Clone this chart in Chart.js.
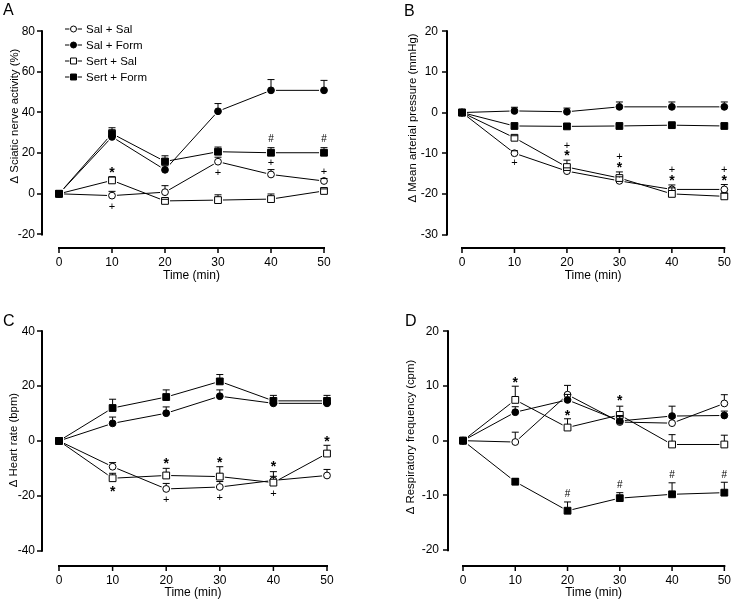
<!DOCTYPE html>
<html><head><meta charset="utf-8">
<script src="https://cdn.jsdelivr.net/npm/chart.js@4/dist/chart.umd.min.js"></script>
<style>
body{margin:0;background:#fff;}
#wrap{position:relative;width:738px;height:601px;background:#fff;overflow:hidden;}
canvas{position:absolute;}
</style></head><body>
<div id="wrap">
<canvas id="cA" width="370" height="300" style="left:0;top:0"></canvas>
<canvas id="cB" width="368" height="300" style="left:370px;top:0"></canvas>
<canvas id="cC" width="370" height="301" style="left:0;top:300px"></canvas>
<canvas id="cD" width="368" height="301" style="left:370px;top:300px"></canvas>
</div>
<script>
// ---------- shared ----------
const times = [0, 10, 20, 30, 40, 50];
const xTickValues = [0, 10, 20, 30, 40, 50];
const seriesNames = ['Sal + Sal', 'Sal + Form', 'Sert + Sal', 'Sert + Form'];

// ---------- Panel A : sciatic nerve activity (%) ----------
const aTicks = [-20, 0, 20, 40, 60, 80];
const aSalSal   = [0, -0.9, 0.8, 15.8, 9.5, 6.3];
const aSalForm  = [0, 28.0, 11.8, 40.6, 50.9, 50.9];
const aSertSal  = [0, 6.6, -3.5, -3.1, -2.6, 1.4];
const aSertForm = [0, 29.6, 15.9, 20.7, 20.2, 20.2];
const aErrSalSal   = [0, 2.1, 3.2, 2.2, 2.4, 1.2];
const aErrSalForm  = [0, 3.5, 2.0, 3.8, 5.3, 4.9];
const aErrSertSal  = [0, 1.8, 0.8, 2.6, 2.5, 1.0];
const aErrSertForm = [0, 2.9, 2.8, 2.3, 2.5, 2.5];
const aMarks = [
  {x: 10, y: 12.3, t: '*'}, {x: 10, y: -6.1, t: '+'},
  {x: 30, y: 10.6, t: '+'},
  {x: 40, y: 27.1, t: '#'}, {x: 40, y: 15.3, t: '+'},
  {x: 50, y: 27.1, t: '#'}, {x: 50, y: 11.0, t: '+'}
];

// ---------- Panel B : mean arterial pressure (mmHg) ----------
const bTicks = [-30, -20, -10, 0, 10, 20];
const bSalSal   = [0, -10.0, -14.4, -16.8, -18.9, -18.9];
const bSalForm  = [0, 0.4, 0.2, 1.4, 1.4, 1.4];
const bSertSal  = [0, -6.2, -13.4, -16.1, -20.0, -20.6];
const bSertForm = [0, -3.3, -3.4, -3.3, -3.1, -3.3];
const bErrSalSal   = [0, 0.6, 0.8, 1.0, 1.1, 1.2];
const bErrSalForm  = [0, 0.9, 0.9, 1.2, 1.2, 1.2];
const bErrSertSal  = [0, 0.5, 1.7, 1.5, 1.5, 0.8];
const bErrSertForm = [0, 0.4, 0.6, 0.4, 0.4, 0.5];
const bMarks = [
  {x: 10, y: -12.3, t: '+'},
  {x: 20, y: -8.0, t: '+'}, {x: 20, y: -9.8, t: '*'},
  {x: 30, y: -10.8, t: '+'}, {x: 30, y: -12.7, t: '*'},
  {x: 40, y: -14.0, t: '+'}, {x: 40, y: -15.8, t: '*'},
  {x: 50, y: -14.0, t: '+'}, {x: 50, y: -15.8, t: '*'}
];

// ---------- Panel C : heart rate (bpm) ----------
const cTicks = [-40, -20, 0, 20, 40];
const cSalSal   = [0, -9.4, -17.5, -16.8, -14.4, -12.6];
const cSalForm  = [0, 6.4, 10.1, 16.3, 13.7, 13.7];
const cSertSal  = [0, -13.6, -12.6, -13.0, -15.2, -4.6];
const cSertForm = [0, 12.0, 16.0, 21.7, 14.6, 14.6];
const cErrSalSal   = [0, 1.5, 2.0, 2.0, 1.5, 2.2];
const cErrSalForm  = [0, 2.3, 2.3, 2.3, 1.0, 1.0];
const cErrSertSal  = [0, 1.8, 2.6, 3.6, 4.0, 3.0];
const cErrSertForm = [0, 3.2, 2.6, 2.5, 2.0, 2.0];
const cMarks = [
  {x: 10, y: -17.0, t: '*'},
  {x: 20, y: -7.0, t: '*'}, {x: 20, y: -21.4, t: '+'},
  {x: 30, y: -6.7, t: '*'}, {x: 30, y: -20.6, t: '+'},
  {x: 40, y: -7.9, t: '*'}, {x: 40, y: -19.0, t: '+'},
  {x: 50, y: 1.2, t: '*'}
];

// ---------- Panel D : respiratory frequency (cpm) ----------
const dTicks = [-20, -10, 0, 10, 20];
const dSalSal   = [0, -0.25, 8.4, 3.4, 3.2, 6.8];
const dSalForm  = [0, 5.2, 7.45, 3.6, 4.5, 4.6];
const dSertSal  = [0, 7.45, 2.4, 4.7, -0.7, -0.7];
const dSertForm = [0, -7.5, -12.8, -10.5, -9.8, -9.5];
const dErrSalSal   = [0, 1.8, 1.7, 1.0, 1.0, 1.6];
const dErrSalForm  = [0, 1.0, 1.0, 1.0, 1.8, 0.8];
const dErrSertSal  = [0, 2.5, 1.6, 1.6, 1.8, 1.7];
const dErrSertForm = [0, 0.6, 1.6, 1.0, 2.1, 1.9];
const dMarks = [
  {x: 10, y: 11.3, t: '*'}, {x: 20, y: 5.3, t: '*'}, {x: 30, y: 7.9, t: '*'},
  {x: 20, y: -9.7, t: '#'}, {x: 30, y: -7.9, t: '#'},
  {x: 40, y: -6.2, t: '#'}, {x: 50, y: -6.2, t: '#'}
];

// ---------- styling ----------
const FONT = '"Liberation Sans", Arial, Helvetica, sans-serif';
Chart.defaults.font.family = FONT;
Chart.defaults.color = '#000';
const markers = [
  {style: 'circle', r: 3.4, halo: 5.0, fill: '#fff'},
  {style: 'circle', r: 3.4, halo: 5.0, fill: '#000'},
  {style: 'rect',   r: 4.8, halo: 7.0, fill: '#fff'},
  {style: 'rect',   r: 4.8, halo: 7.0, fill: '#000'}
];

function drawMarker(ctx, style, x, y, r, fill, stroke) {
  ctx.save();
  ctx.beginPath();
  if (style === 'circle') ctx.arc(x, y, r, 0, Math.PI * 2);
  else { const s = r * Math.SQRT1_2; ctx.rect(x - s, y - s, 2 * s, 2 * s); }
  ctx.fillStyle = fill; ctx.fill();
  if (stroke) { ctx.lineWidth = 1; ctx.strokeStyle = '#000'; ctx.stroke(); }
  ctx.restore();
}

const panelPlugin = {
  id: 'panel',
  beforeDatasetsDraw(chart, args, cfg) {
    const ctx = chart.ctx, xs = chart.scales.x, ys = chart.scales.y;
    const ca = chart.chartArea;
    ctx.save();
    ctx.strokeStyle = '#000';
    // y axis line
    const yt = cfg.yTicks;
    const yTop = ys.getPixelForValue(yt[yt.length - 1]);
    const yBot = ys.getPixelForValue(yt[0]);
    ctx.lineWidth = 2;
    ctx.beginPath(); ctx.moveTo(cfg.axisX, yTop - 1); ctx.lineTo(cfg.axisX, yBot + 1); ctx.stroke();
    ctx.lineWidth = 1.5;
    yt.forEach(v => {
      const p = Math.round(ys.getPixelForValue(v));
      ctx.beginPath(); ctx.moveTo(cfg.axisX - 5, p); ctx.lineTo(cfg.axisX, p); ctx.stroke();
    });
    // x axis line
    const xb = Math.round(ca.bottom);
    const x0 = xs.getPixelForValue(xTickValues[0]);
    const x1 = xs.getPixelForValue(xTickValues[xTickValues.length - 1]);
    ctx.lineWidth = 2;
    ctx.beginPath(); ctx.moveTo(x0 - 1, xb); ctx.lineTo(x1 + 1, xb); ctx.stroke();
    ctx.lineWidth = 1.5;
    xTickValues.forEach(v => {
      const p = xs.getPixelForValue(v);
      ctx.beginPath(); ctx.moveTo(p, xb); ctx.lineTo(p, xb + 5); ctx.stroke();
    });
    ctx.restore();
  },
  afterDatasetsDraw(chart, args, cfg) {
    const ctx = chart.ctx, xs = chart.scales.x, ys = chart.scales.y;
    ctx.save();
    // error bars (one-sided, upward from the marker edge)
    ctx.strokeStyle = '#000'; ctx.lineWidth = 1;
    cfg.errs.forEach((errArr, i) => {
      const vals = cfg.series[i];
      const edge = markers[i].style === 'circle' ? markers[i].r : markers[i].r * Math.SQRT1_2;
      errArr.forEach((e, j) => {
        if (!e) return;
        const px = xs.getPixelForValue(times[j]);
        const p0 = ys.getPixelForValue(vals[j]) - edge;
        const p1 = ys.getPixelForValue(vals[j] + e);
        ctx.beginPath();
        if (p1 < p0) { ctx.moveTo(px, p0); ctx.lineTo(px, p1); }
        ctx.moveTo(px - 3.5, p1); ctx.lineTo(px + 3.5, p1);
        ctx.stroke();
      });
    });
    ctx.fillStyle = '#000';
    // significance marks
    cfg.marks.forEach(m => {
      const px = xs.getPixelForValue(m.x), py = ys.getPixelForValue(m.y);
      ctx.textAlign = 'center'; ctx.textBaseline = 'alphabetic';
      if (m.t === '*') { ctx.font = 'bold 14px ' + FONT; ctx.fillText('*', px, py + 8); }
      else if (m.t === '+') { ctx.font = '11px ' + FONT; ctx.fillText('+', px, py + 3.8); }
      else { ctx.font = '10px ' + FONT; ctx.fillText('#', px, py + 3.6); }
    });
    // panel letter
    ctx.font = '16px ' + FONT; ctx.textAlign = 'left'; ctx.textBaseline = 'alphabetic';
    ctx.fillText(cfg.letter, cfg.letterX, cfg.letterY);
    // y title
    ctx.save();
    ctx.translate(cfg.yTitleX, cfg.yTitleY); ctx.rotate(-Math.PI / 2);
    ctx.font = '11.4px ' + FONT; ctx.textAlign = 'center'; ctx.textBaseline = 'middle';
    ctx.fillText(cfg.yTitle, 0, 0);
    ctx.restore();
    // legend
    if (cfg.legend) {
      ctx.font = '11.5px ' + FONT; ctx.textBaseline = 'middle'; ctx.textAlign = 'left';
      cfg.legend.rows.forEach((ry, i) => {
        const cx = (cfg.legend.x0 + cfg.legend.x1) / 2;
        const mk = markers[i];
        ctx.strokeStyle = '#000'; ctx.lineWidth = 1;
        ctx.beginPath(); ctx.moveTo(cfg.legend.x0, ry); ctx.lineTo(cfg.legend.x1, ry); ctx.stroke();
        drawMarker(ctx, mk.style, cx, ry, mk.style === 'circle' ? 4.2 : 5.8, '#fff', false);
        drawMarker(ctx, mk.style, cx, ry, mk.style === 'circle' ? 3 : 4.2, mk.fill, true);
        ctx.fillStyle = '#000';
        ctx.fillText(seriesNames[i], cfg.legend.tx, ry + 0.5);
      });
    }
    ctx.restore();
  }
};

function makePanel(id, cfg) {
  const canvas = document.getElementById(id);
  const W = canvas.width, H = canvas.height;
  const pts = vals => times.map((t, j) => ({x: t, y: vals[j]}));
  const datasets = [];
  // connecting lines (drawn first)
  cfg.series.forEach((vals, i) => datasets.push({
    label: seriesNames[i], data: pts(vals), order: 3,
    borderColor: '#000', borderWidth: 1, pointRadius: 0, pointHoverRadius: 0,
    clip: false, tension: 0, fill: false
  }));
  // white halos that open small gaps between lines and markers
  cfg.series.forEach((vals, i) => datasets.push({
    label: seriesNames[i] + ' halo', data: pts(vals), order: 2, showLine: false,
    pointStyle: markers[i].style, pointRadius: markers[i].halo, pointHoverRadius: markers[i].halo,
    pointBackgroundColor: '#fff', pointBorderWidth: 0, pointBorderColor: '#fff',
    clip: false
  }));
  // markers (Sert + Form on top, as in the original)
  cfg.series.forEach((vals, i) => datasets.push({
    label: seriesNames[i] + ' markers', data: pts(vals), order: 1 + (3 - i) * 0.1, showLine: false,
    pointStyle: markers[i].style, pointRadius: markers[i].r, pointHoverRadius: markers[i].r,
    pointBackgroundColor: markers[i].fill, pointBorderColor: '#000', pointBorderWidth: 1,
    clip: false
  }));
  new Chart(canvas, {
    type: 'line',
    data: {datasets},
    options: {
      responsive: false, animation: false, devicePixelRatio: 1, events: [],
      layout: {padding: {left: 0, top: cfg.top, right: W - cfg.right, bottom: 0}},
      plugins: {legend: {display: false}, tooltip: {enabled: false}, panel: cfg},
      scales: {
        x: {
          type: 'linear', min: xTickValues[0], max: xTickValues[xTickValues.length - 1],
          afterBuildTicks: s => { s.ticks = xTickValues.map(v => ({value: v})); },
          afterFit: s => { s.height = H - cfg.bottom; },
          grid: {display: false, drawTicks: false}, border: {display: false},
          ticks: {padding: 7, font: {size: 12}, color: '#000', autoSkip: false, maxRotation: 0,
                  callback: v => String(v)},
          title: {display: true, text: 'Time (min)', font: {size: 12}, color: '#000',
                  padding: {top: 0, bottom: cfg.xTitlePad}}
        },
        y: {
          type: 'linear', min: cfg.yMin, max: cfg.yTicks[cfg.yTicks.length - 1],
          afterBuildTicks: s => { s.ticks = cfg.yTicks.map(v => ({value: v})); },
          afterFit: s => { s.width = cfg.left; },
          grid: {display: false, drawTicks: false}, border: {display: false},
          ticks: {padding: cfg.yLabelPad, font: {size: 12}, color: '#000', autoSkip: false,
                  callback: v => String(v)}
        }
      }
    },
    plugins: [panelPlugin]
  });
}

makePanel('cA', {
  letter: 'A', letterX: 3, letterY: 15,
  yTitle: 'Δ Sciatic nerve activity (%)', yTitleX: 15, yTitleY: 116,
  yTicks: aTicks, yMin: -26.67, top: 16, bottom: 248, left: 59, right: 324,
  axisX: 42, yLabelPad: 24, xTitlePad: 17.5,
  series: [aSalSal, aSalForm, aSertSal, aSertForm],
  errs: [aErrSalSal, aErrSalForm, aErrSertSal, aErrSertForm],
  marks: aMarks,
  legend: {rows: [29, 45, 61, 77], x0: 65, x1: 82, tx: 86}
});
makePanel('cB', {
  letter: 'B', letterX: 34, letterY: 16,
  yTitle: 'Δ Mean arterial pressure (mmHg)', yTitleX: 43, yTitleY: 118,
  yTicks: bTicks, yMin: -33.3, top: 14, bottom: 248, left: 92, right: 359,
  axisX: 77, yLabelPad: 24, xTitlePad: 17,
  series: [bSalSal, bSalForm, bSertSal, bSertForm],
  errs: [bErrSalSal, bErrSalForm, bErrSertSal, bErrSertForm],
  marks: bMarks, legend: null
});
makePanel('cC', {
  letter: 'C', letterX: 3, letterY: 26,
  yTitle: 'Δ Heart rate (bpm)', yTitleX: 14, yTitleY: 140,
  yTicks: cTicks, yMin: -45.6, top: 29, bottom: 266, left: 59, right: 327,
  axisX: 42, yLabelPad: 24, xTitlePad: 1,
  series: [cSalSal, cSalForm, cSertSal, cSertForm],
  errs: [cErrSalSal, cErrSalForm, cErrSertSal, cErrSertForm],
  marks: cMarks, legend: null
});
makePanel('cD', {
  letter: 'D', letterX: 35, letterY: 26,
  yTitle: 'Δ Respiratory frequency (cpm)', yTitleX: 41, yTitleY: 137,
  yTicks: dTicks, yMin: -22.9, top: 29, bottom: 266, left: 93, right: 360,
  axisX: 78, yLabelPad: 24, xTitlePad: 1,
  series: [dSalSal, dSalForm, dSertSal, dSertForm],
  errs: [dErrSalSal, dErrSalForm, dErrSertSal, dErrSertForm],
  marks: dMarks, legend: null
});
</script>
</body></html>
